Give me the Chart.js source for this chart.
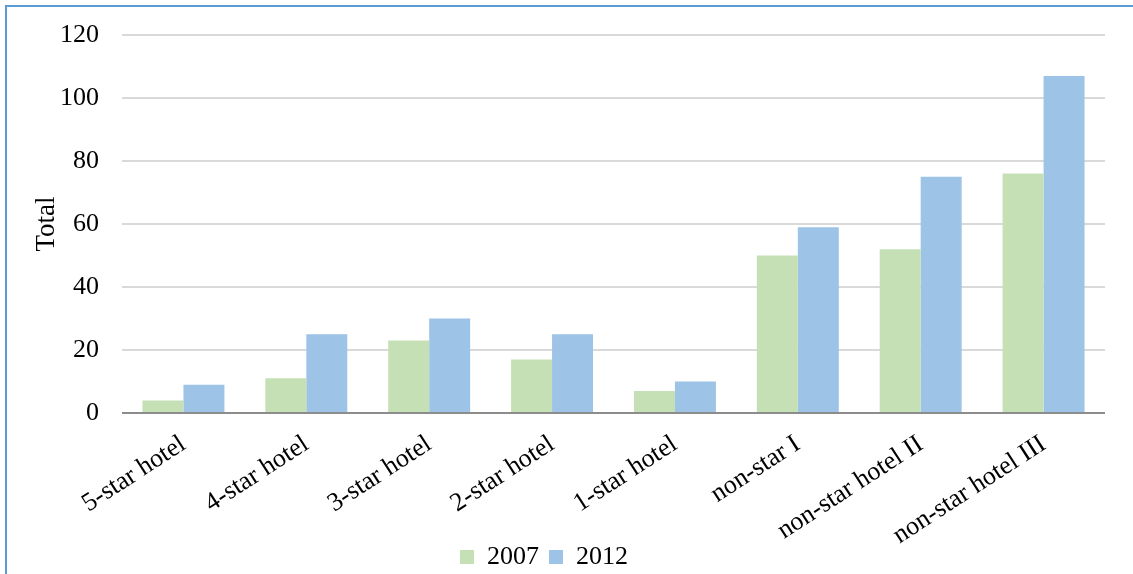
<!DOCTYPE html>
<html>
<head>
<meta charset="utf-8">
<script src="https://cdn.jsdelivr.net/npm/chart.js@4/dist/chart.umd.min.js"></script>
<style>
  html, body { margin: 0; padding: 0; background: #fff; overflow: hidden; }
  #frame { position: absolute; left: 5px; top: 5px; width: 1160px; height: 600px;
           border-left: 2px solid #5b9bd5; border-top: 2px solid #5b9bd5; }
  #wrap { position: absolute; left: 0; top: 0; width: 1133px; height: 574px; overflow: hidden; }
</style>
</head>
<body>
<div id="frame"></div>
<div id="wrap"><canvas id="chart" width="1133" height="580"></canvas></div>
<script>
// hotel categories and counts per year
const categories = ['5-star hotel', '4-star hotel', '3-star hotel', '2-star hotel', '1-star hotel',
                    'non-star I', 'non-star hotel II', 'non-star hotel III'];
const values2007 = [4, 11, 23, 17, 7, 50, 52, 76];
const values2012 = [9, 25, 30, 25, 10, 59, 75, 107];
const yTicks = [0, 20, 40, 60, 80, 100, 120];

const serif = '"Times New Roman", "Liberation Serif", serif';

// long rotated labels run below the x scale box, so widen its clip area;
// legend sits a little left of the canvas centre
const layoutTweaks = {
    id: 'layoutTweaks',
    afterLayout(chart) {
        chart.scales.x.bottom = chart.height;
        chart.legend.left -= 25;
        chart.legend.right -= 25;
    }
};

new Chart(document.getElementById('chart'), {
    type: 'bar',
    data: {
        labels: categories,
        datasets: [
            { label: '2007', data: values2007, backgroundColor: '#c5e0b4', borderWidth: 0 },
            { label: '2012', data: values2012, backgroundColor: '#9dc3e6', borderWidth: 0 }
        ]
    },
    plugins: [layoutTweaks],
    options: {
        responsive: false,
        animation: false,
        devicePixelRatio: 1,
        layout: { padding: { left: 33, right: 28, top: 35, bottom: 0 } },
        datasets: { bar: { categoryPercentage: 0.667, barPercentage: 1.0 } },
        plugins: {
            tooltip: { enabled: false },
            legend: {
                position: 'bottom',
                labels: { color: '#000', font: { family: serif, size: 26 }, boxWidth: 14, boxHeight: 14, padding: 10 }
            }
        },
        scales: {
            x: {
                grid: { display: false },
                border: { display: false },
                ticks: { color: '#000', font: { family: serif, size: 26 }, minRotation: 33, maxRotation: 33, padding: 8, autoSkip: false },
                // rotated labels may hang past the plot edges
                afterFit: s => { s.height = 121; s.paddingLeft = 0; s.paddingRight = 0; }
            },
            y: {
                min: 0, max: 120,
                afterBuildTicks: s => { s.ticks = yTicks.map(v => ({ value: v })); },
                afterFit: s => { s.width = 89; s.paddingTop = 0; s.paddingBottom = 0; },
                grid: {
                    drawTicks: false,
                    color: c => c.tick.value === 0 ? '#8c8c8c' : '#d9d9d9',
                    lineWidth: 2
                },
                border: { display: false },
                ticks: { color: '#000', font: { family: serif, size: 26 }, padding: 23 },
                title: { display: true, text: 'Total', color: '#000', font: { family: serif, size: 27, lineHeight: 1 }, padding: { top: 0, bottom: 3 } }
            }
        }
    }
});
</script>
</body>
</html>
